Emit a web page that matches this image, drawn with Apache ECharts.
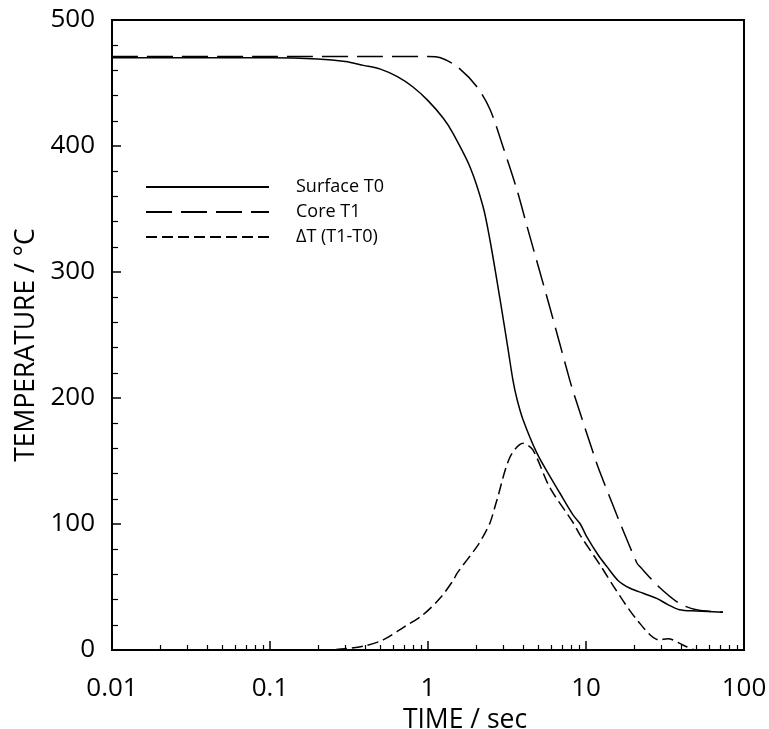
<!DOCTYPE html>
<html>
<head>
<meta charset="utf-8">
<script src="https://cdn.jsdelivr.net/npm/echarts@6/dist/echarts.min.js"></script>
<style>
html,body{margin:0;padding:0;background:#fff;}
#chart{width:769px;height:729px;}
</style>
</head>
<body>
<div id="chart"></div>
<script>
// ---- Data ----
const seriesNames = ['Surface T0', 'Core T1', '\u0394T (T1-T0)'];

const timeSurface = [0.01, 0.05, 0.1, 0.2, 0.3, 0.39, 0.5, 0.64, 0.8, 1.0, 1.25, 1.44, 1.85, 2.23, 2.47, 2.86, 3.2, 3.45, 3.66, 3.99, 4.9, 5.9, 6.8, 8.3, 9.2, 10.1, 12, 13.6, 16, 19, 23, 28, 33, 39, 50, 73.6];
const tempSurface = [470, 470, 470, 469, 467, 464, 461, 455, 447, 436, 422, 410, 383, 352, 325, 278, 240, 214, 199, 183, 156, 138, 125, 107, 100, 90, 75, 66, 55, 49, 45, 41, 36, 32, 31, 30];

const timeCore = [0.01, 0.1, 0.5, 1.0, 1.2, 1.53, 2.04, 2.47, 2.99, 3.66, 4.24, 5.9, 7.9, 8.5, 11.7, 12.8, 16.4, 21, 22, 29, 39, 50, 73.6];
const tempCore = [471, 471, 471, 471, 470, 463, 447, 429, 399, 365, 336, 272, 214, 201, 148, 135, 101, 69, 66, 50, 37, 32, 30];

const timeDelta = [0.01, 0.2, 0.3, 0.39, 0.52, 0.70, 0.93, 1.19, 1.44, 1.53, 2.04, 2.23, 2.47, 2.73, 3.3, 4.0, 4.6, 5.9, 8.3, 9.2, 12.5, 15.4, 21, 29, 33, 41, 50, 73.6];
const tempDelta = [0, 0, 1, 3, 8, 18, 28, 41, 55, 61, 82, 90, 101, 119, 153, 164, 159, 129, 101, 91, 66, 48, 24, 8, 9, 4, 0, 0];

const xMin = 0.01, xMax = 100;
const yMin = 0, yMax = 500, yStep = 100;
const xMinorTickValues = [];
[0.01, 0.1, 1, 10].forEach(d => { for (let k = 2; k <= 9; k++) xMinorTickValues.push(+(d * k).toPrecision(3)); });

// ---- Chart ----
const FONT = '"Open Sans", sans-serif';
const chart = echarts.init(document.getElementById('chart'), null, {renderer: 'canvas'});
const pairs = (ts, vs) => ts.map((t, i) => [t, vs[i]]);

const option = {
  backgroundColor: '#fff',
  animation: false,
  grid: {left: 112, top: 20, right: 25, bottom: 79, show: true, borderColor: '#000', borderWidth: 2,
         containLabel: false, outerBoundsMode: 'none'},
  legend: {
    orient: 'vertical', left: 145, top: 178, padding: 0,
    itemWidth: 123, itemHeight: 16, itemGap: 7,
    itemStyle: {opacity: 0},
    textStyle: {fontFamily: FONT, fontSize: 18, lineHeight: 16, color: '#000', padding: [0, 0, 0, 22]},
    data: seriesNames
  },
  xAxis: {
    type: 'log', logBase: 10, min: xMin, max: xMax,
    name: 'TIME / sec', nameLocation: 'middle', nameGap: 56,
    nameTextStyle: {fontFamily: FONT, fontSize: 26.5, color: '#000', padding: [0, 0, 0, 74]},
    axisLine: {lineStyle: {color: '#000', width: 2}},
    axisTick: {inside: true, length: 9, lineStyle: {color: '#000', width: 1.5}},
    axisLabel: {fontFamily: FONT, fontSize: 26, color: '#000', margin: 26,
      formatter: v => String(+v.toPrecision(3))},
    splitLine: {show: false}
  },
  yAxis: {
    type: 'value', min: yMin, max: yMax, interval: yStep,
    name: 'TEMPERATURE / \u00B0C', nameLocation: 'middle', nameGap: 71,
    nameTextStyle: {fontFamily: FONT, fontSize: 26.5, color: '#000', padding: [0, 20, 0, 0]},
    axisLine: {show: true, lineStyle: {color: '#000', width: 2}},
    axisTick: {show: true, inside: true, length: 9, lineStyle: {color: '#000', width: 1.5}},
    minorTick: {show: true, splitNumber: 5, length: 6, lineStyle: {color: '#000', width: 1.2}},
    axisLabel: {fontFamily: FONT, fontSize: 26, color: '#000', margin: 17},
    splitLine: {show: false}
  },
  series: [
    {name: seriesNames[0], type: 'line', data: pairs(timeSurface, tempSurface), smooth: 0.3, symbol: 'none',
     lineStyle: {color: '#000', width: 1.5, type: 'solid'}, itemStyle: {color: '#000'}, z: 3},
    {name: seriesNames[1], type: 'line', data: pairs(timeCore, tempCore), smooth: 0.3, symbol: 'none',
     lineStyle: {color: '#000', width: 1.5, type: [26, 9]}, itemStyle: {color: '#000'}, z: 3},
    {name: seriesNames[2], type: 'line', data: pairs(timeDelta, tempDelta), smooth: 0.3, symbol: 'none',
     lineStyle: {color: '#000', width: 1.5, type: [11, 5]}, itemStyle: {color: '#000'}, z: 3}
  ]
};
chart.setOption(option);

// minor log ticks on the x axis (2..9 of each decade), placed through the axis scale
const y0 = chart.convertToPixel({yAxisIndex: 0}, yMin);
const minorEls = xMinorTickValues.map(v => {
  const x = Math.round(chart.convertToPixel({xAxisIndex: 0}, v)) + 0.5;
  return {type: 'line', shape: {x1: x, y1: y0, x2: x, y2: y0 - 5}, style: {stroke: '#000', lineWidth: 1.2}, silent: true, z: 10};
});
chart.setOption({graphic: minorEls});
</script>
</body>
</html>
